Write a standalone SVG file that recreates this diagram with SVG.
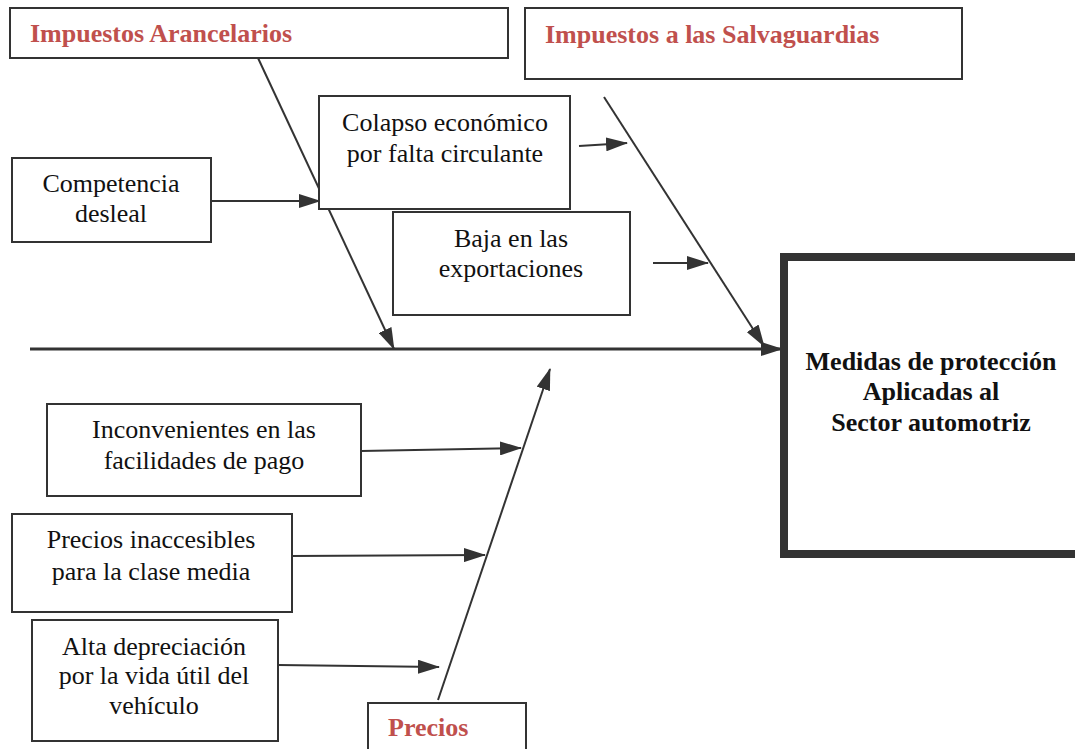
<svg xmlns="http://www.w3.org/2000/svg" width="1075" height="749" viewBox="0 0 1075 749">
<style>
.box{fill:#fff;stroke:#333;stroke-width:2}
text{font-family:"Liberation Serif","Times New Roman",serif;font-size:26px}
.t{fill:#111;text-anchor:middle}
.h{font-weight:bold;fill:#C0504D}
.b{font-weight:bold;fill:#111;text-anchor:middle}
.c{stroke:#333;stroke-width:2;fill:none;marker-end:url(#ah)}
</style>
<defs>
<marker id="ah" markerUnits="userSpaceOnUse" markerWidth="22" markerHeight="14" refX="21" refY="7" orient="auto">
<path d="M0,0 L22,7 L0,14 Z" fill="#333"/>
</marker>
</defs>
<rect width="1075" height="749" fill="#fff"/>
<g id="connectors">
<line class="c" x1="30" y1="349" x2="782" y2="349" style="stroke-width:3"/>
<line class="c" x1="258" y1="58" x2="394" y2="349"/>
<line class="c" x1="604" y1="97" x2="764" y2="346"/>
<line class="c" x1="438" y1="700" x2="550" y2="369"/>
<line class="c" x1="205" y1="201" x2="320" y2="201"/>
<line class="c" x1="579" y1="146" x2="627" y2="143"/>
<line class="c" x1="653" y1="263" x2="708" y2="263"/>
<line class="c" x1="361" y1="451" x2="521" y2="448"/>
<line class="c" x1="292" y1="556" x2="485" y2="555"/>
<line class="c" x1="278" y1="665" x2="439" y2="667"/>
</g>
<g id="n-arancelarios">
<rect class="box" x="10" y="8" width="498" height="50"/>
<text class="h" x="30" y="42">Impuestos Arancelarios</text>
</g>
<g id="n-salvaguardias">
<rect class="box" x="525" y="8" width="437" height="71"/>
<text class="h" x="545" y="43">Impuestos a las Salvaguardias</text>
</g>
<g id="n-colapso">
<rect class="box" x="319" y="96" width="251" height="113"/>
<text class="t" x="445" y="131">Colapso económico</text>
<text class="t" x="445" y="162">por falta circulante</text>
</g>
<g id="n-competencia">
<rect class="box" x="12" y="158" width="199" height="84"/>
<text class="t" x="111" y="192">Competencia</text>
<text class="t" x="111" y="222">desleal</text>
</g>
<g id="n-baja">
<rect class="box" x="393" y="212" width="237" height="103"/>
<text class="t" x="511" y="247">Baja en las</text>
<text class="t" x="511" y="277">exportaciones</text>
</g>
<g id="n-efecto">
<rect x="784" y="257" width="300" height="297" fill="#fff" stroke="#333" stroke-width="8"/>
<text class="b" x="931" y="370">Medidas de protección</text>
<text class="b" x="931" y="400">Aplicadas al</text>
<text class="b" x="931" y="431">Sector automotriz</text>
</g>
<g id="n-inconvenientes">
<rect class="box" x="47" y="404" width="314" height="92"/>
<text class="t" x="204" y="438">Inconvenientes en las</text>
<text class="t" x="204" y="469">facilidades de pago</text>
</g>
<g id="n-inaccesibles">
<rect class="box" x="12" y="514" width="280" height="98"/>
<text class="t" x="151" y="548">Precios inaccesibles</text>
<text class="t" x="151" y="580">para la clase media</text>
</g>
<g id="n-depreciacion">
<rect class="box" x="32" y="620" width="246" height="121"/>
<text class="t" x="154" y="655">Alta depreciación</text>
<text class="t" x="154" y="684">por la vida útil del</text>
<text class="t" x="154" y="714">vehículo</text>
</g>
<g id="n-precios">
<rect class="box" x="368" y="703" width="158" height="60"/>
<text class="h" x="388" y="736">Precios</text>
</g>
</svg>
